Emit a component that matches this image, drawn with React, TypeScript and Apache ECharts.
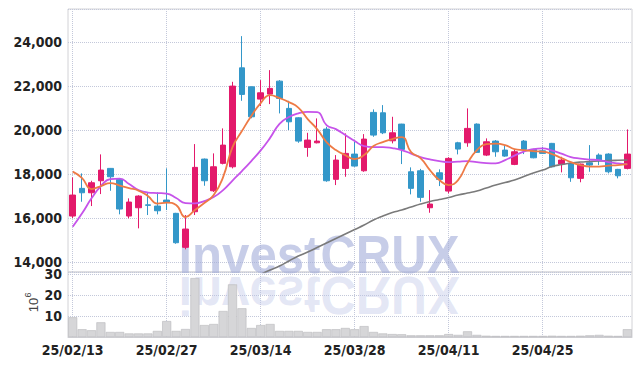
import React, { useEffect, useRef } from 'react';
import * as echarts from 'echarts';

const dates = [
  '25/02/13', '25/02/14', '25/02/17', '25/02/18', '25/02/19', '25/02/20', '25/02/21', '25/02/24', '25/02/25', '25/02/26',
  '25/02/27', '25/02/28', '25/03/04', '25/03/05', '25/03/06', '25/03/07', '25/03/10', '25/03/11', '25/03/12', '25/03/13',
  '25/03/14', '25/03/17', '25/03/18', '25/03/19', '25/03/20', '25/03/21', '25/03/24', '25/03/25', '25/03/26', '25/03/27',
  '25/03/28', '25/03/31', '25/04/01', '25/04/02', '25/04/03', '25/04/04', '25/04/07', '25/04/08', '25/04/09', '25/04/10',
  '25/04/11', '25/04/14', '25/04/15', '25/04/16', '25/04/17', '25/04/18', '25/04/21', '25/04/22', '25/04/23', '25/04/24',
  '25/04/25', '25/04/28', '25/04/29', '25/04/30', '25/05/02', '25/05/07', '25/05/08', '25/05/09', '25/05/12', '25/05/13',
];

// [open, close, low, high]
const candles = [
  [16105, 17059, 16014, 17863], [17363, 17163, 16754, 18045], [17163, 17618, 16559, 17709], [17709, 18195, 17104, 18909],
  [18272, 17891, 17254, 18290], [17773, 16423, 16182, 17818], [16105, 16741, 16000, 16909], [16482, 17013, 15545, 17050],
  [16614, 16590, 16150, 17182], [16559, 16345, 16182, 17182], [16832, 16741, 16377, 18272], [16227, 14891, 14845, 16250],
  [14682, 15514, 14591, 16150], [16300, 18318, 16150, 19377], [18695, 17709, 17482, 18720], [17254, 18345, 17200, 18954],
  [18500, 19331, 18454, 20090], [18345, 22013, 18272, 22209], [22845, 21636, 21345, 24286], [21981, 20618, 20550, 22000],
  [21422, 21709, 21104, 22286], [21650, 21909, 21195, 22740], [22240, 21454, 20772, 22286], [21000, 20390, 20018, 21345],
  [20572, 19513, 19436, 20600], [19227, 19559, 18800, 19890], [19436, 19513, 19409, 20545], [20059, 17709, 17663, 20163],
  [17773, 18650, 17513, 18877], [18272, 18954, 17891, 19863], [18922, 18377, 18345, 19481], [18163, 19604, 18118, 19831],
  [20818, 19786, 19709, 20954], [20800, 19890, 19831, 21150], [19527, 19890, 19409, 20618], [20286, 19136, 18468, 20300],
  [18118, 17363, 17090, 18318], [18163, 16954, 16754, 18250], [16482, 16650, 16254, 17286], [18072, 17772, 17468, 18227],
  [17240, 18727, 17136, 18780], [19436, 19150, 18909, 19481], [19436, 20090, 19254, 21000], [20286, 19000, 18980, 20318],
  [18877, 19482, 18832, 19636], [19513, 19027, 18800, 19560], [19104, 18831, 18800, 19331], [18454, 19027, 18420, 19136],
  [19513, 19136, 18922, 19560], [19136, 18754, 18730, 19160], [19072, 18954, 18930, 19254], [19409, 18345, 18320, 19430],
  [18468, 18650, 18090, 18800], [18500, 17845, 17660, 18520], [17818, 18468, 17640, 18490], [18527, 18422, 18118, 19331],
  [18877, 18650, 18420, 18954], [18922, 18118, 18045, 18960], [18227, 17936, 17818, 18250], [18272, 18922, 18227, 20045],
];

// volume in millions of shares
const volumes = [
  9.4, 3.7, 3.2, 7.0, 2.4, 2.4, 1.7, 1.7, 1.7, 2.9,
  7.6, 2.9, 3.8, 28.1, 5.7, 6.2, 12.4, 25.1, 13.7, 4.3,
  5.7, 6.2, 2.9, 2.9, 2.9, 2.4, 2.4, 3.7, 3.7, 4.3,
  3.7, 5.2, 2.4, 1.7, 1.4, 1.3, 0.8, 0.8, 0.8, 0.8,
  1.4, 1.0, 2.7, 1.0, 0.6, 0.5, 0.5, 0.5, 0.5, 0.5,
  0.5, 0.6, 0.5, 0.5, 0.6, 0.8, 1.0, 0.6, 0.5, 3.7,
];

const maShort = [
  18123, 17832, 17332, 17468, 17605, 17491, 17377, 17264, 17014, 16673,
  16718, 16605, 16059, 16377, 16695, 17059, 17877, 19241, 19968, 20650,
  21241, 21604, 21468, 21286, 21036, 20514, 20059, 19468, 19105, 18877,
  18695, 18877, 19286, 19468, 19605, 19695, 19014, 18741, 18195, 17741,
  17514, 17741, 18514, 19105, 19377, 19400, 19332, 19150, 19105, 19059,
  19036, 18923, 18741, 18559, 18423, 18355, 18355, 18400, 18423, 18468,
];

const maMid = [
  15618, 16227, 16909, 17468, 17786, 17809, 17559, 17286, 17173, 17150,
  17127, 16923, 16695, 16682, 16786, 16968, 17286, 17718, 18150, 18605,
  19090, 19660, 20300, 20605, 20773, 20841, 20832, 20241, 20059, 19786,
  19514, 19286, 19241, 19241, 19195, 19105, 18945, 18786, 18682, 18605,
  18559, 18582, 18605, 18559, 18514, 18500, 18650, 18855, 19036, 19150,
  19182, 19082, 18945, 18786, 18718, 18673, 18650, 18559, 18500, 18455,
];

const maLong: (number | string)[] = [
  '-', '-', '-', '-', '-', '-', '-', '-', '-', '-',
  '-', '-', '-', '-', '-', '-', '-', '-', '-', '-',
  13450, 13650, 13832, 14059, 14286, 14468, 14673, 14877, 15082, 15286,
  15491, 15695, 15923, 16105, 16264, 16377, 16514, 16650, 16764, 16855,
  16945, 17059, 17150, 17241, 17377, 17514, 17627, 17741, 17900, 18059,
  18195, 18355, 18445, 18514, 18559, 18582, 18605, 18627, 18641, 18650,
];

const priceMin = 13560;
const priceMax = 25520;
const volMax = 31;

const UP = '#e3196b';
const DOWN = '#3397c9';
const FONT = "'Liberation Sans Narrow', 'DejaVu Sans Condensed', 'Liberation Sans', sans-serif";
const GRIDLINE = { color: '#c3c8da', type: 'dotted' as const, width: 1 };

export default function App() {
  const ref = useRef<HTMLDivElement>(null);
  useEffect(() => {
    const chart = echarts.init(ref.current!, null, { renderer: 'svg' });
    chart.setOption({
      animation: false,
      backgroundColor: '#ffffff',
      grid: [
        { left: 68, right: 10, top: 9, height: 263, show: true, borderColor: '#d2d2d6', borderWidth: 1 },
        { left: 68, right: 10, top: 272, height: 65, show: true, borderColor: '#d2d2d6', borderWidth: 1 },
      ],
      xAxis: [
        {
          type: 'category', gridIndex: 0, data: dates, boundaryGap: true,
          axisLine: { show: false }, axisTick: { show: false }, axisLabel: { show: false },
          splitLine: { show: true, interval: 9, alignWithLabel: true, lineStyle: GRIDLINE },
        },
        {
          type: 'category', gridIndex: 1, data: dates, boundaryGap: true,
          axisLine: { show: true, lineStyle: { color: '#cfcfd4' } }, axisTick: { show: false },
          axisLabel: { interval: 9, fontFamily: FONT, fontWeight: 'bold', fontSize: 14, color: '#222', margin: 6 },
          splitLine: { show: true, interval: 9, alignWithLabel: true, lineStyle: GRIDLINE },
        },
      ],
      yAxis: [
        {
          type: 'value', gridIndex: 0, min: priceMin, max: priceMax, splitNumber: 5,
          axisLine: { show: false }, axisTick: { show: false },
          axisLabel: {
            showMinLabel: false, showMaxLabel: false,
            formatter: (v: number) => (v % 2000 === 0 ? v.toLocaleString('en-US') : ''),
            fontFamily: FONT, fontWeight: 'bold', fontSize: 14, color: '#222', margin: 6,
          },
          splitLine: { show: true, lineStyle: GRIDLINE },
        },
        {
          type: 'value', gridIndex: 1, min: 0, max: volMax, interval: 10,
          axisLine: { show: false }, axisTick: { show: false },
          axisLabel: {
            showMinLabel: false, showMaxLabel: false,
            formatter: (v: number) => (v > 0 && v % 10 === 0 ? String(v) : ''),
            fontFamily: FONT, fontWeight: 'bold', fontSize: 14, color: '#222', margin: 6,
          },
          splitLine: { show: true, lineStyle: GRIDLINE },
        },
      ],
      graphic: [
        {
          type: 'text', x: 319, y: 254, scaleX: 0.91, z: 1, silent: true,
          style: { text: 'investCRUX', font: 'bold 54px "Liberation Sans"', fill: 'rgba(165,174,218,0.62)', align: 'center', verticalAlign: 'middle' },
        },
        {
          type: 'text', x: 319, y: 296, scaleX: 0.91, scaleY: -1, z: 1, silent: true,
          style: { text: 'investCRUX', font: 'bold 54px "Liberation Sans"', fill: 'rgba(190,197,232,0.42)', align: 'center', verticalAlign: 'middle' },
        },
        {
          type: 'text', x: 33, y: 305, rotation: Math.PI / 2,
          style: { text: '10', font: '13px "Liberation Sans"', fill: '#444', align: 'center', verticalAlign: 'middle' },
        },
        {
          type: 'text', x: 28, y: 295, rotation: Math.PI / 2,
          style: { text: '6', font: '9px "Liberation Sans"', fill: '#444', align: 'center', verticalAlign: 'middle' },
        },
      ],
      series: [
        {
          type: 'candlestick', xAxisIndex: 0, yAxisIndex: 0, data: candles, barWidth: '64%', z: 3,
          itemStyle: { color: UP, color0: DOWN, borderColor: UP, borderColor0: DOWN, borderWidth: 1 },
        },
        {
          type: 'line', xAxisIndex: 0, yAxisIndex: 0, data: maLong, showSymbol: false, smooth: true, z: 4,
          lineStyle: { color: '#7a7a7a', width: 1.6 },
        },
        {
          type: 'line', xAxisIndex: 0, yAxisIndex: 0, data: maMid, showSymbol: false, smooth: true, z: 4,
          lineStyle: { color: '#c653ea', width: 1.8 },
        },
        {
          type: 'line', xAxisIndex: 0, yAxisIndex: 0, data: maShort, showSymbol: false, smooth: true, z: 4,
          lineStyle: { color: '#ee7a45', width: 1.8 },
        },
        {
          type: 'bar', xAxisIndex: 1, yAxisIndex: 1, data: volumes, barCategoryGap: '4%', z: 3,
          itemStyle: { color: '#d6d6d8', borderColor: '#b9b9bc', borderWidth: 0.6 },
        },
      ],
    });
    return () => chart.dispose();
  }, []);
  return <div ref={ref} style={{ position: 'fixed', left: 0, top: 0, width: 642, height: 366 }} />;
}
